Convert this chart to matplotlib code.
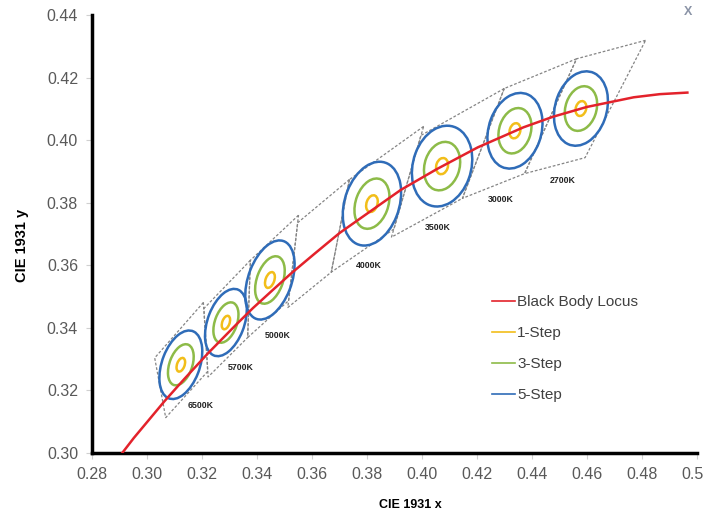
import matplotlib
matplotlib.use("Agg")
import matplotlib.pyplot as plt
import matplotlib.transforms as mtransforms
from matplotlib.patches import Ellipse
from matplotlib.lines import Line2D

plt.rcParams['font.family'] = ['Liberation Sans', 'DejaVu Sans']

# black body locus (CIE 1931 x, y)
bb_x = [0.2866, 0.2952, 0.3064, 0.3135, 0.3221, 0.3325, 0.3385, 0.3451, 0.3524,
        0.3608, 0.3700, 0.3805, 0.3923, 0.4053, 0.4203, 0.4369, 0.4477, 0.4599,
        0.4770, 0.4865, 0.4965]
bb_y = [0.2950, 0.3048, 0.3166, 0.3236, 0.3318, 0.3411, 0.3463, 0.3516, 0.3574,
        0.3636, 0.3703, 0.3768, 0.3841, 0.3907, 0.3977, 0.4041, 0.4075, 0.4106,
        0.4137, 0.4147, 0.4152]

# ellipse centres and 5-step half axes (data units), tilt in degrees
cct_names = ["6500K", "5700K", "5000K", "4000K", "3500K", "3000K", "2700K"]
ell_x = [0.3123, 0.3287, 0.3447, 0.3818, 0.4073, 0.4338, 0.4578]
ell_y = [0.3282, 0.3417, 0.3553, 0.3797, 0.3917, 0.4030, 0.4101]
ell_a5 = [0.0116, 0.0114, 0.0134, 0.0140, 0.0133, 0.0125, 0.0123]
ell_b5 = [0.0068, 0.0066, 0.0078, 0.0098, 0.0105, 0.0095, 0.0093]
ell_theta = [66, 66, 66, 66, 67, 67, 67]
steps = [1, 3, 5]

# label positions
label_x = [0.3196, 0.3342, 0.3476, 0.3807, 0.4058, 0.4287, 0.4513]
label_y = [0.3153, 0.3272, 0.3374, 0.3600, 0.3722, 0.3811, 0.3872]

# ANSI quadrangles (4 corners each): 6500K .. 2700K incl. 4500K
quad_x = [[0.3205, 0.3028, 0.3068, 0.3221],
          [0.3376, 0.3207, 0.3222, 0.3366],
          [0.3551, 0.3376, 0.3366, 0.3515],
          [0.3736, 0.3548, 0.3512, 0.3670],
          [0.4006, 0.3736, 0.3670, 0.3898],
          [0.4299, 0.3996, 0.3889, 0.4147],
          [0.4562, 0.4299, 0.4147, 0.4373],
          [0.4813, 0.4562, 0.4373, 0.4593]]
quad_y = [[0.3481, 0.3304, 0.3113, 0.3261],
          [0.3616, 0.3462, 0.3243, 0.3369],
          [0.3760, 0.3616, 0.3369, 0.3487],
          [0.3874, 0.3736, 0.3465, 0.3578],
          [0.4044, 0.3874, 0.3578, 0.3716],
          [0.4165, 0.4015, 0.3690, 0.3814],
          [0.4260, 0.4165, 0.3814, 0.3893],
          [0.4319, 0.4260, 0.3893, 0.3944]]

x_ticks = [0.28, 0.30, 0.32, 0.34, 0.36, 0.38, 0.40, 0.42, 0.44, 0.46, 0.48, 0.50]
x_tick_labels = ["0.28", "0.30", "0.32", "0.34", "0.36", "0.38", "0.40", "0.42", "0.44", "0.46", "0.48", "0.5"]
y_ticks = [0.30, 0.32, 0.34, 0.36, 0.38, 0.40, 0.42, 0.44]

red = "#e3222b"
yellow = "#f2be1a"
green = "#8dbb48"
blue = "#2f6cb8"
step_colors = {1: yellow, 3: green, 5: blue}
grey_text = "#595959"

fig = plt.figure(figsize=(7.05, 5.13), dpi=100)
ax = fig.add_axes([92 / 705, 60 / 513, 605 / 705, 438 / 513])

# quadrangles
for qx, qy in zip(quad_x, quad_y):
    ax.plot(qx + [qx[0]], qy + [qy[0]], color="#858585", linewidth=0.9,
            linestyle=(0, (2.2, 1.5)), zorder=1)

# ellipses
for i in range(len(cct_names)):
    for n in steps:
        e = Ellipse((ell_x[i], ell_y[i]), 2 * ell_a5[i] * n / 5, 2 * ell_b5[i] * n / 5,
                    angle=ell_theta[i], fill=False, edgecolor=step_colors[n],
                    linewidth=1.8, zorder=2)
        ax.add_patch(e)
    ax.text(label_x[i], label_y[i], cct_names[i], fontsize=6.3, fontweight="bold",
            color="#222222", ha="center", va="center")

ax.plot(bb_x, bb_y, color=red, linewidth=1.8, zorder=3)

ax.set_xlim(0.28, 0.50)
ax.set_ylim(0.30, 0.44)
ax.set_xticks(x_ticks)
ax.set_xticklabels(x_tick_labels)
ax.set_yticks(y_ticks)
ax.set_yticklabels(["%.2f" % v for v in y_ticks])
ax.tick_params(axis="both", labelsize=11.5, labelcolor=grey_text, color="#d0d0d0",
               length=4, width=0.8, pad=6)

# last x label sits at the image edge
last = ax.get_xticklabels()[-1]
last.set_transform(last.get_transform() +
                   mtransforms.ScaledTranslation(-5 / 100, 0, fig.dpi_scale_trans))

for s in ["top", "right"]:
    ax.spines[s].set_visible(False)
for s in ["left", "bottom"]:
    ax.spines[s].set_linewidth(2.5)
    ax.spines[s].set_color("black")

fig.text(22 / 705, 1 - 245 / 513, "CIE 1931 y", rotation=90, fontsize=10.5,
         fontweight="bold", ha="center", va="center")
fig.text(410 / 705, 1 - 505 / 513, "CIE 1931 x", fontsize=9,
         fontweight="bold", ha="center", va="center")
fig.text(688 / 705, 1 - 12 / 513, "X", fontsize=9, fontweight="bold",
         color="#8a93a6", ha="center", va="center")

handles = [Line2D([], [], color=red, linewidth=1.2),
           Line2D([], [], color=yellow, linewidth=1.2),
           Line2D([], [], color=green, linewidth=1.2),
           Line2D([], [], color=blue, linewidth=1.2)]
labels = ["Black Body Locus", "1-Step", "3-Step", "5-Step"]
fig.legend(handles, labels, loc="upper left", bbox_to_anchor=(492 / 705, 1 - 295 / 513),
           bbox_transform=fig.transFigure, frameon=False, fontsize=11,
           handlelength=1.5, handletextpad=0.15, labelspacing=1.12,
           borderpad=0, borderaxespad=0, labelcolor="#404040")

plt.savefig("out.png", dpi=100)
